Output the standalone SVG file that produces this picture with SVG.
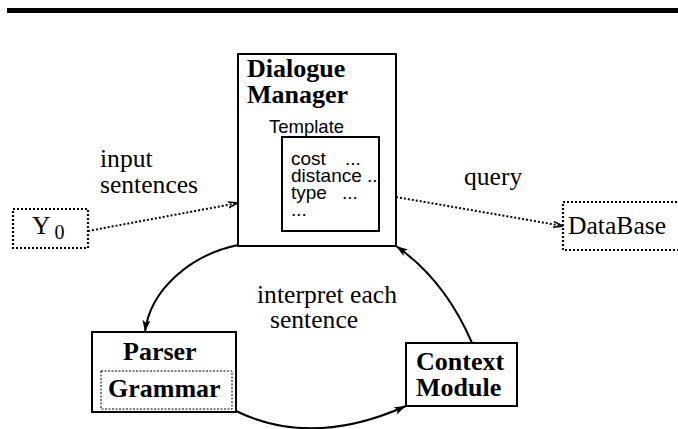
<svg xmlns="http://www.w3.org/2000/svg" width="678" height="429" viewBox="0 0 678 429">
<style>
.box{fill:#fff;stroke:#000;stroke-width:2}
.dbox{fill:none;stroke:#000;stroke-width:2.2;stroke-dasharray:2 2}
.tbox{fill:none;stroke:#000;stroke-width:1;stroke-dasharray:2 1.5}
.serif{font-family:"Liberation Serif","Times New Roman",serif;font-size:25.6px;fill:#000}
.bold{font-family:"Liberation Serif","Times New Roman",serif;font-size:26px;font-weight:bold;fill:#000}
.sans{font-family:"Liberation Sans",Arial,sans-serif;font-size:18.5px;fill:#000}
.fields{font-family:"Liberation Sans",Arial,sans-serif;font-size:19px;fill:#000}
.flow{fill:none;stroke:#000;stroke-width:2}
.dot{fill:none;stroke:#000;stroke-width:2;stroke-dasharray:2 2}
</style>
<defs>
<marker id="ah" viewBox="0 0 12 8" refX="12" refY="4" markerWidth="12" markerHeight="8" markerUnits="userSpaceOnUse" orient="auto">
<path d="M0,0 L12,4 L0,8 L3,4 Z" fill="#000"/>
</marker>
<marker id="ao" viewBox="0 0 10 8" refX="10" refY="4" markerWidth="10" markerHeight="8" markerUnits="userSpaceOnUse" orient="auto">
<path d="M0,1 L10,4 L0,7" fill="none" stroke="#000" stroke-width="1.5"/>
</marker>
</defs>
<rect x="7" y="8" width="671" height="5" fill="#000"/>
<g id="connectors">
<path class="dot" d="M88,231 L238,203" marker-end="url(#ao)"/>
<path class="dot" d="M396,197 L563,226" marker-end="url(#ao)"/>
<path class="flow" d="M238,245 C190,255 150,290 145,332" marker-end="url(#ah)"/>
<path class="flow" d="M236,411 Q312,448 406,406" marker-end="url(#ah)"/>
<path class="flow" d="M472,343 Q445,280 396,246" marker-end="url(#ah)"/>
</g>
<g id="dialogue-manager">
<rect class="box" x="238" y="54" width="158" height="192"/>
<text class="bold" x="247" y="77">Dialogue</text>
<text class="bold" x="247" y="103">Manager</text>
<text class="sans" x="269" y="133">Template</text>
<rect class="box" x="282" y="137" width="97" height="94"/>
<text class="fields"><tspan x="291" y="165">cost</tspan><tspan x="345" y="165">...</tspan><tspan x="291" y="182">distance</tspan><tspan x="367" y="182">..</tspan><tspan x="291" y="199">type</tspan><tspan x="342" y="199">...</tspan><tspan x="291" y="216">...</tspan></text>
</g>
<g id="y0">
<rect class="dbox" x="13" y="209" width="75" height="39"/>
<text class="serif" x="32" y="234">Y<tspan font-size="20" dy="5" dx="4">0</tspan></text>
</g>
<g id="database">
<rect class="dbox" x="563" y="202" width="130" height="48"/>
<text class="serif" x="568" y="234">DataBase</text>
</g>
<g id="parser">
<rect class="box" x="92" y="332" width="144" height="80"/>
<text class="bold" x="123" y="360">Parser</text>
<rect class="tbox" x="101" y="371" width="131" height="38"/>
<text class="bold" x="108" y="397">Grammar</text>
</g>
<g id="context-module">
<rect class="box" x="406" y="343" width="111" height="63"/>
<text class="bold" x="416" y="370">Context</text>
<text class="bold" x="416" y="396">Module</text>
</g>
<g id="labels">
<text class="serif" x="100" y="167">input</text>
<text class="serif" x="100" y="193">sentences</text>
<text class="serif" x="464" y="185">query</text>
<text class="serif" x="257" y="303">interpret each</text>
<text class="serif" x="270" y="328">sentence</text>
</g>
</svg>
